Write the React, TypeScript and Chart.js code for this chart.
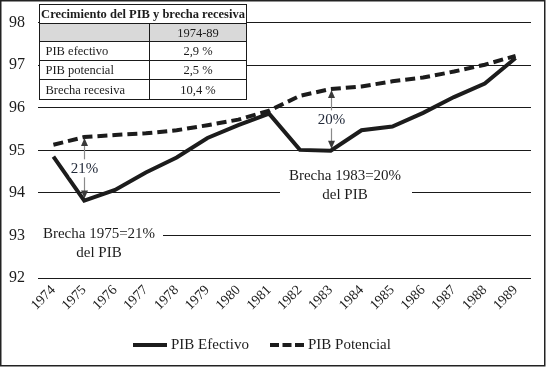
import React, { useEffect, useRef } from "react";
import { Chart, registerables } from "chart.js";

Chart.register(...registerables);

const years = ["1974","1975","1976","1977","1978","1979","1980","1981","1982","1983","1984","1985","1986","1987","1988","1989"];
const pibEfectivo = [94.85, 93.82, 94.07, 94.48, 94.83, 95.29, 95.59, 95.86, 95.01, 94.99, 95.47, 95.56, 95.88, 96.25, 96.57, 97.17];
const pibPotencial = [95.13, 95.31, 95.36, 95.40, 95.47, 95.59, 95.72, 95.93, 96.28, 96.44, 96.50, 96.62, 96.71, 96.85, 97.01, 97.22];
const yTicks = [92, 93, 94, 95, 96, 97, 98];
const seriesNames = ["PIB Efectivo", "PIB Potencial"];
const tableTitle = "Crecimiento del PIB y brecha recesiva";
const tablePeriod = "1974-89";
const tableRows = ["PIB efectivo", "PIB potencial", "Brecha recesiva"];
const tableValues = ["2,9 %", "2,5 %", "10,4 %"];
const gapYears = ["1975", "1983"];
const gapLabels = ["21%", "20%"];
const noteLines1975 = ["Brecha 1975=21%", "del PIB"];
const noteLines1983 = ["Brecha 1983=20%", "del PIB"];

const SERIF = "'Liberation Serif', 'Times New Roman', serif";
const INK = "#1c1c1c";

function drawArrowHead(ctx: CanvasRenderingContext2D, x: number, y: number, dir: number) {
  ctx.beginPath();
  ctx.moveTo(x, y);
  ctx.lineTo(x - 3.5, y - dir * 8);
  ctx.lineTo(x + 3.5, y - dir * 8);
  ctx.closePath();
  ctx.fill();
}

const overlayPlugin = {
  id: "overlay",
  afterDraw(chart: any) {
    const ctx: CanvasRenderingContext2D = chart.ctx;
    const xs = chart.scales.x;
    const ys = chart.scales.y;
    ctx.save();

    // gap arrows
    gapYears.forEach((yr, k) => {
      const i = years.indexOf(yr);
      const x = Math.round(xs.getPixelForValue(i)) + 0.5;
      const yTop = ys.getPixelForValue(pibPotencial[i]) + 1;
      const yBot = ys.getPixelForValue(pibEfectivo[i]) - 2;
      ctx.strokeStyle = "#8a8a8a";
      ctx.lineWidth = 1.2;
      ctx.beginPath();
      ctx.moveTo(x, yTop + 6);
      ctx.lineTo(x, yBot - 6);
      ctx.stroke();
      ctx.fillStyle = "#3a3a3a";
      drawArrowHead(ctx, x, yTop, -1);
      drawArrowHead(ctx, x, yBot, 1);
      const my = (yTop + yBot) / 2;
      ctx.font = "15px " + SERIF;
      const w = ctx.measureText(gapLabels[k]).width;
      ctx.fillStyle = "#fff";
      ctx.fillRect(x - w / 2 - 1, my - 9, w + 2, 18);
      ctx.fillStyle = "#222a3a";
      ctx.textAlign = "center";
      ctx.textBaseline = "middle";
      ctx.fillText(gapLabels[k], x, my + 1);
    });

    // notes
    const drawNote = (lines: string[], cx: number, cy: number, boxL: number, boxR: number) => {
      ctx.fillStyle = "#fff";
      ctx.fillRect(boxL, cy - 10, boxR - boxL, 38);
      ctx.fillStyle = INK;
      ctx.font = "15px " + SERIF;
      ctx.textAlign = "center";
      ctx.textBaseline = "middle";
      ctx.fillText(lines[0], cx, cy);
      ctx.fillText(lines[1], cx, cy + 19);
    };
    drawNote(noteLines1975, 99, 234, 38, 163);
    drawNote(noteLines1983, 345, 176, 280, 412);

    // table
    const tL = 39.5, tR = 246.5, tT = 4.5, colX = 149.5;
    const rowsY = [4.5, 23.5, 41.5, 60.5, 79.5, 99.5];
    ctx.fillStyle = "#fff";
    ctx.fillRect(tL, tT, tR - tL, rowsY[5] - tT);
    ctx.fillStyle = "#d9d9d9";
    ctx.fillRect(tL, rowsY[1], tR - tL, rowsY[2] - rowsY[1]);
    ctx.strokeStyle = "#1a1a1a";
    ctx.lineWidth = 1;
    ctx.beginPath();
    for (let r = 1; r < 5; r++) {
      ctx.moveTo(tL, rowsY[r]);
      ctx.lineTo(tR, rowsY[r]);
    }
    ctx.moveTo(colX, rowsY[1]);
    ctx.lineTo(colX, rowsY[5]);
    ctx.stroke();
    ctx.strokeRect(tL, tT, tR - tL, rowsY[5] - tT);
    ctx.fillStyle = INK;
    ctx.textBaseline = "middle";
    ctx.textAlign = "center";
    ctx.font = "bold 12.5px " + SERIF;
    ctx.fillText(tableTitle, (tL + tR) / 2, (rowsY[0] + rowsY[1]) / 2 + 1);
    ctx.font = "12.5px " + SERIF;
    ctx.fillText(tablePeriod, (colX + tR) / 2, (rowsY[1] + rowsY[2]) / 2 + 1);
    tableRows.forEach((label, r) => {
      const cy = (rowsY[r + 2] + rowsY[r + 3]) / 2 + 1;
      ctx.textAlign = "left";
      ctx.fillText(label, tL + 6, cy);
      ctx.textAlign = "center";
      ctx.fillText(tableValues[r], (colX + tR) / 2, cy);
    });

    // legend
    const ly = 345;
    ctx.strokeStyle = INK;
    ctx.lineWidth = 4;
    ctx.beginPath();
    ctx.moveTo(133, ly);
    ctx.lineTo(167, ly);
    ctx.stroke();
    ctx.setLineDash([9, 3.5]);
    ctx.beginPath();
    ctx.moveTo(270, ly);
    ctx.lineTo(304, ly);
    ctx.stroke();
    ctx.setLineDash([]);
    ctx.fillStyle = INK;
    ctx.font = "15px " + SERIF;
    ctx.textAlign = "left";
    ctx.textBaseline = "middle";
    ctx.fillText(seriesNames[0], 171, ly);
    ctx.fillText(seriesNames[1], 308, ly);

    // frame
    ctx.strokeStyle = "#222";
    ctx.lineWidth = 1.5;
    ctx.strokeRect(0.75, 0.75, 544, 365);
    ctx.restore();
  },
};

export default function App() {
  const ref = useRef<HTMLCanvasElement | null>(null);
  useEffect(() => {
    document.body.style.margin = "0";
    const canvas = ref.current;
    if (!canvas) return;
    const chart = new Chart(canvas, {
      type: "line",
      data: {
        labels: years,
        datasets: [
          {
            label: seriesNames[0],
            data: pibEfectivo,
            borderColor: INK,
            borderWidth: 4,
            pointRadius: 0,
            tension: 0,
            borderJoinStyle: "miter",
          },
          {
            label: seriesNames[1],
            data: pibPotencial,
            borderColor: INK,
            borderWidth: 4,
            borderDash: [10, 5],
            pointRadius: 0,
            tension: 0,
          },
        ],
      },
      options: {
        responsive: false,
        animation: false,
        devicePixelRatio: 1,
        layout: { padding: { top: 17, right: 15, left: 0, bottom: 0 } },
        plugins: { legend: { display: false }, tooltip: { enabled: false } },
        scales: {
          x: {
            offset: true,
            grid: { display: false, drawTicks: false },
            border: { display: false },
            ticks: {
              autoSkip: false,
              minRotation: 45,
              maxRotation: 45,
              padding: 4,
              color: INK,
              font: { family: SERIF, size: 14 },
            },
            afterFit: (s: any) => { s.height = 89; },
          },
          y: {
            min: 92,
            max: 98,
            afterBuildTicks: (s: any) => { s.ticks = yTicks.map((v) => ({ value: v })); },
            grid: { color: "#1a1a1a", lineWidth: 1, drawTicks: false },
            border: { display: false },
            ticks: {
              padding: 13,
              color: INK,
              font: { family: SERIF, size: 16 },
            },
            afterFit: (s: any) => { s.width = 38; },
          },
        },
      },
      plugins: [overlayPlugin],
    });
    return () => chart.destroy();
  }, []);
  return (
    <canvas ref={ref} width={546} height={367} style={{ display: "block", width: 546, height: 367 }} />
  );
}
